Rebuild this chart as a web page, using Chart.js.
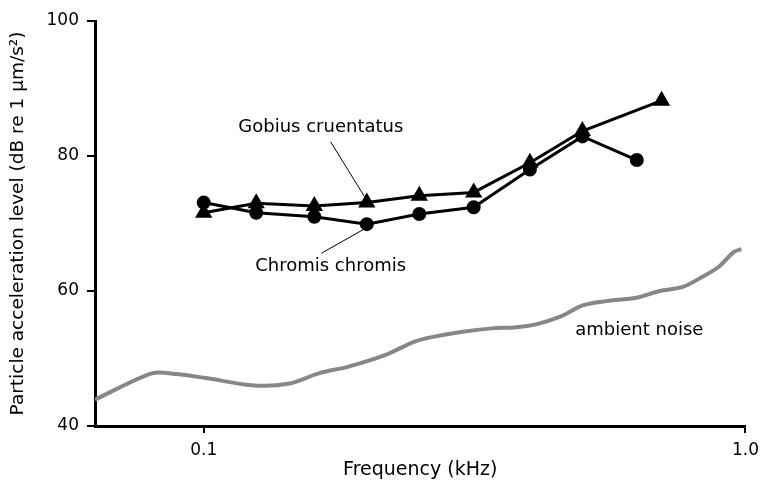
<!DOCTYPE html>
<html lang="en">
  <head>
    <meta charset="UTF-8" />
    <title>Particle acceleration thresholds</title>
    <style>
      body {
        margin: 0;
        background-color: #ffffff;
      }
    </style>
    <script src="https://cdn.jsdelivr.net/npm/chart.js"></script>
  </head>
  <body>
    <canvas id="chart" width="766" height="491"></canvas>
    <script>
      // hearing thresholds, frequency in kHz
      const gobiusFreq = [0.1, 0.125, 0.16, 0.2, 0.25, 0.315, 0.4, 0.5, 0.7];
      const gobiusLevel = [71.6, 73.0, 72.6, 73.1, 74.1, 74.6, 79.0, 83.7, 88.2];

      const chromisFreq = [0.1, 0.125, 0.16, 0.2, 0.25, 0.315, 0.4, 0.5, 0.63];
      const chromisLevel = [73.1, 71.6, 71.0, 69.9, 71.4, 72.4, 78.0, 82.9, 79.4];

      const noiseFreq = [0.063, 0.0802, 0.0891, 0.101, 0.124, 0.144, 0.163, 0.185, 0.216, 0.245,
        0.265, 0.303, 0.344, 0.374, 0.412, 0.455, 0.502, 0.554, 0.629, 0.694, 0.766, 0.833,
        0.893, 0.952, 0.983];
      const noiseLevel = [43.9, 47.8, 47.7, 47.1, 46.0, 46.3, 47.8, 48.8, 50.5, 52.5,
        53.2, 54.0, 54.5, 54.6, 55.1, 56.2, 57.9, 58.5, 59.0, 60.0, 60.6, 62.1,
        63.6, 65.8, 66.2];

      const xTicks = [0.1, 1.0];
      const yTicks = [40, 60, 80, 100];

      // text labels with leader lines (data coords)
      const labels = [
        { text: "Gobius cruentatus", x: 0.1645, y: 84.3, from: [0.1715, 82.1], to: [0.198, 74.0] },
        { text: "Chromis chromis", x: 0.1715, y: 63.7, from: [0.165, 65.6], to: [0.198, 69.2] },
        { text: "ambient noise", x: 0.637, y: 54.2 }
      ];

      const FONT = "'DejaVu Sans', sans-serif";

      const toPoints = (xs, ys) => xs.map((x, i) => ({ x: x, y: ys[i] }));

      const labelPlugin = {
        id: "labelPlugin",
        afterDatasetsDraw(chart) {
          const ctx = chart.ctx;
          const sx = chart.scales.x;
          const sy = chart.scales.y;
          ctx.save();
          ctx.font = "18px " + FONT;
          ctx.fillStyle = "#000";
          ctx.textAlign = "center";
          ctx.textBaseline = "middle";
          labels.forEach((l) => {
            ctx.fillText(l.text, sx.getPixelForValue(l.x), sy.getPixelForValue(l.y));
            if (l.from) {
              ctx.beginPath();
              ctx.strokeStyle = "#000";
              ctx.lineWidth = 1;
              ctx.moveTo(sx.getPixelForValue(l.from[0]), sy.getPixelForValue(l.from[1]));
              ctx.lineTo(sx.getPixelForValue(l.to[0]), sy.getPixelForValue(l.to[1]));
              ctx.stroke();
            }
          });
          ctx.restore();
        }
      };

      const ctx = document.getElementById("chart").getContext("2d");
      const chart = new Chart(ctx, {
        type: "line",
        data: {
          datasets: [
            {
              label: "ambient noise",
              data: toPoints(noiseFreq, noiseLevel),
              borderColor: "#878787",
              borderWidth: 4,
              pointRadius: 0,
              tension: 0.3
            },
            {
              label: "Chromis chromis",
              data: toPoints(chromisFreq, chromisLevel),
              borderColor: "#000",
              backgroundColor: "#000",
              borderWidth: 3,
              pointStyle: "circle",
              pointRadius: 5.5
            },
            {
              label: "Gobius cruentatus",
              data: toPoints(gobiusFreq, gobiusLevel),
              borderColor: "#000",
              backgroundColor: "#000",
              borderWidth: 3,
              pointStyle: "triangle",
              pointRadius: 7
            }
          ]
        },
        options: {
          responsive: false,
          animation: false,
          layout: { padding: { left: 0, right: 17, top: 21, bottom: 0 } },
          plugins: {
            legend: { display: false },
            tooltip: { enabled: false }
          },
          scales: {
            x: {
              type: "logarithmic",
              min: 0.063,
              max: 1.0,
              afterBuildTicks: (axis) => {
                axis.ticks = xTicks.map((v) => ({ value: v }));
              },
              afterFit: (axis) => {
                axis.height = 65;
              },
              ticks: {
                color: "#000",
                font: { family: FONT, size: 17 },
                padding: 7,
                maxRotation: 0,
                callback: (v) => (v === 1 ? "1.0" : String(v))
              },
              grid: { drawOnChartArea: false, drawTicks: true, tickLength: 7, color: "#000", lineWidth: 2 },
              border: { color: "#000", width: 3 },
              title: {
                display: true,
                text: "Frequency (kHz)",
                color: "#000",
                font: { family: FONT, size: 19 },
                padding: { top: 4, bottom: 10 }
              }
            },
            y: {
              min: 40,
              max: 100,
              afterBuildTicks: (axis) => {
                axis.ticks = yTicks.map((v) => ({ value: v }));
              },
              afterFit: (axis) => {
                axis.width = 95;
              },
              ticks: {
                color: "#000",
                font: { family: FONT, size: 17 },
                padding: 8
              },
              grid: { drawOnChartArea: false, drawTicks: true, tickLength: 8, color: "#000", lineWidth: 2 },
              border: { color: "#000", width: 3 },
              title: {
                display: true,
                text: "Particle acceleration level (dB re 1 \u03bcm/s\u00b2)",
                color: "#000",
                font: { family: FONT, size: 18.5 },
                padding: { top: 7, bottom: 4 }
              }
            }
          }
        },
        plugins: [labelPlugin]
      });
    </script>
  </body>
</html>
